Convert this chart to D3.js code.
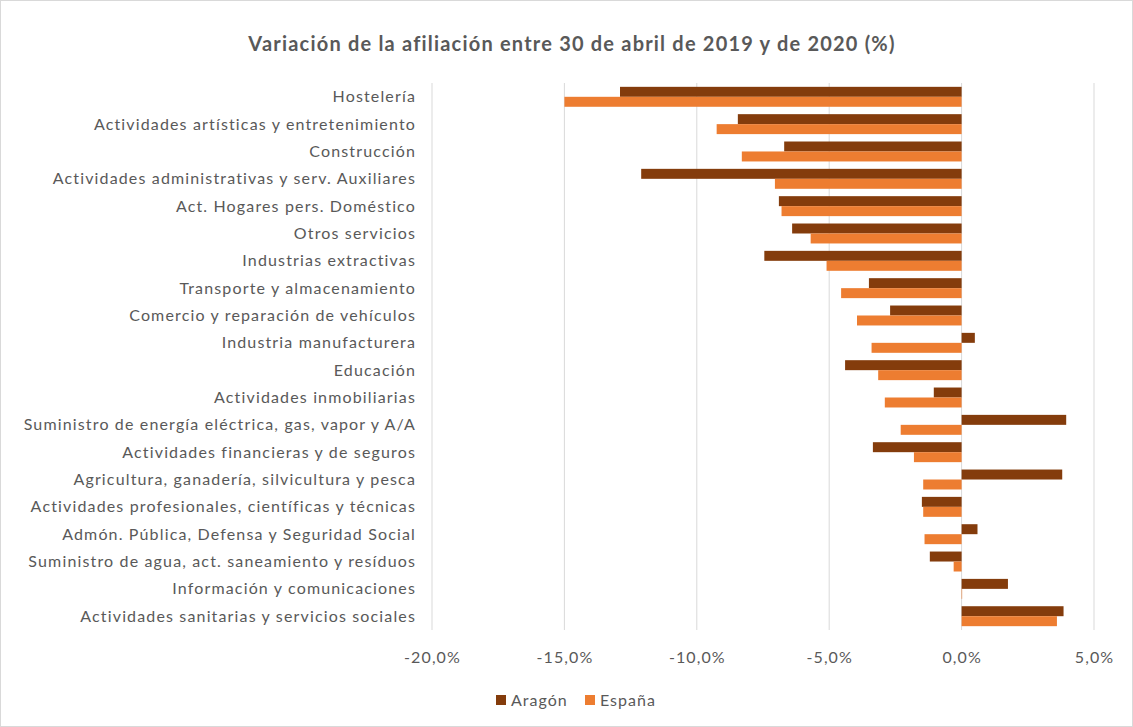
<!DOCTYPE html>
<html>
<head>
<meta charset="utf-8">
<script src="https://cdn.jsdelivr.net/npm/d3@7"></script>
<style>
  body { margin: 0; background: #fff; }
  svg { font-family: Lato, "Open Sans", sans-serif; }
</style>
</head>
<body>
<svg id="chart"></svg>
<script>
// sectores, de mayor a menor caída en España
var categories = [
  "Hostelería",
  "Actividades artísticas y entretenimiento",
  "Construcción",
  "Actividades administrativas y serv. Auxiliares",
  "Act. Hogares pers. Doméstico",
  "Otros servicios",
  "Industrias extractivas",
  "Transporte y almacenamiento",
  "Comercio y reparación de vehículos",
  "Industria manufacturera",
  "Educación",
  "Actividades inmobiliarias",
  "Suministro de energía eléctrica, gas, vapor y A/A",
  "Actividades financieras y de seguros",
  "Agricultura, ganadería, silvicultura y pesca",
  "Actividades profesionales, científicas y técnicas",
  "Admón. Pública, Defensa y Seguridad Social",
  "Suministro de agua, act. saneamiento y resíduos",
  "Información y comunicaciones",
  "Actividades sanitarias y servicios sociales"
];

var aragon = [-12.9, -8.45, -6.7, -12.1, -6.9, -6.4, -7.45, -3.5, -2.7, 0.5,
              -4.4, -1.05, 3.95, -3.35, 3.8, -1.5, 0.6, -1.2, 1.75, 3.85];
var espana = [-15.0, -9.25, -8.3, -7.05, -6.8, -5.7, -5.1, -4.55, -3.95, -3.4,
              -3.15, -2.9, -2.3, -1.8, -1.45, -1.45, -1.4, -0.3, 0.02, 3.6];

var series = ["Aragón", "España"];
var colors = ["#843C0C", "#ED7D31"];
var xTicks = [-20, -15, -10, -5, 0, 5];

var width = 1133, height = 727;
var margin = { top: 83, right: 39, bottom: 97, left: 432 };

var svg = d3.select("#chart")
    .attr("width", width)
    .attr("height", height);

svg.append("rect")
    .attr("x", 0.5).attr("y", 0.5)
    .attr("width", width - 1).attr("height", height - 1)
    .attr("fill", "#fff")
    .attr("stroke", "#d9d9d9");

var x = d3.scaleLinear()
    .domain([-20, 5])
    .range([margin.left, width - margin.right]);

var y = d3.scaleBand()
    .domain(categories)
    .range([margin.top, height - margin.bottom])
    .paddingInner(0.27)
    .paddingOuter(0.14);

var ySub = d3.scaleBand()
    .domain(series)
    .range([0, y.bandwidth()]);

// rejilla vertical
svg.append("g")
  .selectAll("line")
  .data(xTicks)
  .enter()
    .append("line")
    .attr("x1", d => x(d)).attr("x2", d => x(d))
    .attr("y1", margin.top).attr("y2", height - margin.bottom)
    .attr("stroke", "#d9d9d9")
    .attr("stroke-width", 1);

var rows = categories.map((c, i) => ({ cat: c, values: [aragon[i], espana[i]] }));

var groups = svg.append("g")
  .selectAll("g")
  .data(rows)
  .enter()
    .append("g")
    .attr("transform", d => "translate(0," + y(d.cat) + ")");

groups.selectAll("rect")
  .data(d => d.values.map((v, j) => ({ key: series[j], v: v, j: j })))
  .enter()
    .append("rect")
    .attr("x", d => x(Math.min(0, d.v)))
    .attr("y", d => ySub(d.key))
    .attr("width", d => Math.abs(x(d.v) - x(0)))
    .attr("height", ySub.bandwidth())
    .attr("fill", d => colors[d.j]);

// etiquetas de categoría
svg.append("g")
  .selectAll("text")
  .data(categories)
  .enter()
    .append("text")
    .attr("x", margin.left - 16)
    .attr("y", d => y(d) + y.bandwidth() / 2)
    .attr("dy", "0.35em")
    .attr("text-anchor", "end")
    .attr("fill", "#595959")
    .style("font-size", "16px")
    .style("letter-spacing", "1.15px")
    .text(d => d);

// eje x
var xAxis = d3.axisBottom(x)
    .tickValues(xTicks)
    .tickSize(0)
    .tickPadding(0)
    .tickFormat(d => d3.format(".1f")(d).replace(".", ",").replace("−", "-") + "%");

svg.append("g")
    .attr("transform", "translate(0," + (height - margin.bottom + 22) + ")")
    .call(xAxis)
    .call(g => g.select(".domain").remove())
    .selectAll("text")
    .attr("fill", "#595959")
    .attr("font-family", "Lato, 'Open Sans', sans-serif")
    .style("font-size", "16px")
    .style("letter-spacing", "1.1px");

// título
svg.append("text")
    .attr("x", 572)
    .attr("y", 44)
    .attr("dy", "0.35em")
    .attr("text-anchor", "middle")
    .attr("fill", "#595959")
    .style("font-size", "20px")
    .style("font-weight", "bold")
    .style("letter-spacing", "1.2px")
    .text("Variación de la afiliación entre 30 de abril de 2019 y de 2020 (%)");

// leyenda
var legend = svg.append("g")
  .selectAll("g")
  .data(series)
  .enter()
    .append("g")
    .attr("transform", (d, i) => "translate(" + [496, 585][i] + ",700)");

legend.append("rect")
    .attr("x", 0).attr("y", -5)
    .attr("width", 10).attr("height", 10)
    .attr("fill", (d, i) => colors[i]);

legend.append("text")
    .attr("x", 15)
    .attr("dy", "0.35em")
    .attr("fill", "#595959")
    .style("font-size", "16px")
    .style("letter-spacing", "1px")
    .text(d => d);
</script>
</body>
</html>
